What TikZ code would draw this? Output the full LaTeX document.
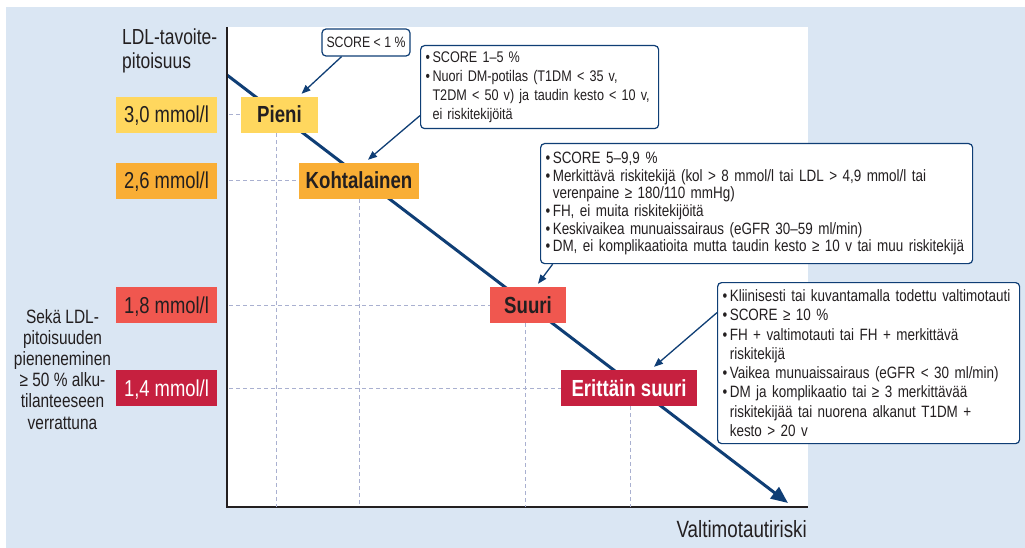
\documentclass[tikz,border=0pt]{standalone}
\usepackage{fontspec}
\setmainfont{Liberation Sans}[FakeStretch=0.8]
\newfontfamily\callfont{Liberation Sans}[FakeStretch=0.82]
\usetikzlibrary{arrows.meta}
\definecolor{bgblue}{HTML}{DAE6F3}
\definecolor{navy}{HTML}{0F3E75}
\definecolor{cyellow}{HTML}{FFD75E}
\definecolor{corange}{HTML}{F9AE35}
\definecolor{ccoral}{HTML}{F0574F}
\definecolor{ccrimson}{HTML}{C6203F}
\definecolor{dashc}{HTML}{A9B0D0}
\definecolor{txt}{HTML}{231F20}
\newcommand{\bu}{•\hspace{2.5pt}}
\newcommand{\bi}{\hphantom{•\hspace{2.5pt}}}
\begin{document}
\begin{tikzpicture}[x=1pt,y=-1pt,
  val/.style={minimum width=101pt, minimum height=36pt, inner sep=0pt, text height=18pt, text depth=2pt, font=\fontsize{23}{26}\selectfont, text=txt},
  cat/.style={minimum height=36pt, inner sep=0pt, text height=18pt, text depth=2pt, font=\bfseries\fontsize{23.3}{26}\selectfont, text=txt},
  diag/.style={draw=navy, line width=3pt, -{Triangle[length=17pt,width=14pt]}},
  axisline/.style={draw=txt, line width=2.5pt},
  dashline/.style={draw=dashc, line width=1pt, dash pattern=on 4pt off 3pt},
  call/.style={draw=navy, fill=white, line width=1.2pt, rounded corners=4pt, text=txt, align=left},
  callarrow/.style={draw=navy, line width=1.3pt, -{Triangle[length=9pt,width=7pt]}}
]
\useasboundingbox (0,0) rectangle (1025,548);
\fill[bgblue] (6,7) rectangle (1025,548);
\fill[white] (227,27) rectangle (808,507);
\coordinate (O) at (227,507);
\coordinate (ytop) at (227,27);
\coordinate (xend) at (808,507);
\coordinate (dstart) at (227,75);
\coordinate (dend) at (788,503);

\draw[diag] (dstart) -- (dend);
\draw[axisline] (ytop) -- (O) -- (xend);

% value labels
\node[val, fill=cyellow] (v30) at (166.5,115) {3,0 mmol/l};
\node[val, fill=corange] (v26) at (166.5,181) {2,6 mmol/l};
\node[val, fill=ccoral] (v18) at (166.5,305) {1,8 mmol/l};
\node[val, fill=ccrimson, text=white] (v14) at (166.5,388) {1,4 mmol/l};

% category boxes
\node[cat, fill=cyellow, minimum width=77pt] (pieni) at (279.5,115) {Pieni};
\node[cat, fill=corange, minimum width=120pt] (kohta) at (359,181) {Kohtalainen};
\node[cat, fill=ccoral, minimum width=76pt] (suuri) at (528,305) {Suuri};
\node[cat, fill=ccrimson, minimum width=136pt, text=white] (eritt) at (629,388) {Erittäin suuri};

% dashed guides
\draw[dashline] ([xshift=2pt]O |- pieni.west) -- (pieni.west);
\draw[dashline] ([xshift=2pt]O |- kohta.west) -- (kohta.west);
\draw[dashline] ([xshift=2pt]O |- suuri.west) -- (suuri.west);
\draw[dashline] ([xshift=2pt]O |- eritt.west) -- (eritt.west);
\draw[dashline] ([xshift=-3.5pt]pieni.south) -- ([xshift=-3.5pt]pieni.south |- O);
\draw[dashline] (kohta.south) -- (kohta.south |- O);
\draw[dashline] ([xshift=-3pt]suuri.south) -- ([xshift=-3pt]suuri.south |- O);
\draw[dashline] ([xshift=1pt]eritt.south) -- ([xshift=1pt]eritt.south |- O);

% axis labels
\node[anchor=north west, align=left, inner sep=0pt, text=txt, font=\fontsize{21.8}{23.5}\selectfont] (ylab) at (122,29) {LDL-tavoite-\\pitoisuus};
\node[anchor=base east, inner sep=0pt, text=txt, font=\fontsize{23.5}{25}\selectfont] (xlab) at (807,537) {Valtimotautiriski};
\node[anchor=north, align=center, inner sep=0pt, text=txt, font=\fontsize{19.3}{21.2}\selectfont] (note) at (62.5,309) {Sekä LDL-\\pitoisuuden\\pieneneminen\\≥ 50 \% alku-\\tilanteeseen\\verrattuna};

% callouts
\node[call, minimum width=88pt, minimum height=27pt, inner sep=0pt, font=\callfont\fontsize{15}{16}\selectfont] (b1) at (366,42.5) {SCORE < 1 \%};
\node[call, anchor=north west, text width=228pt, inner xsep=5pt, inner ysep=0pt, minimum height=83pt, font=\callfont\fontsize{15.4}{19}\selectfont] (b2) at (420,45)
{\mbox{\bu SCORE 1–5 \%}\\
\mbox{\bu Nuori DM-potilas (T1DM < 35 v,}\\
\mbox{\bi T2DM < 50 v) ja taudin kesto < 10 v,}\\
\mbox{\bi ei riskitekijöitä}};
\node[call, anchor=north west, text width=422pt, inner xsep=5pt, inner ysep=0pt, minimum height=120pt, font=\callfont\fontsize{16.4}{17.7}\selectfont] (b3) at (540,143)
{\mbox{\bu SCORE 5–9,9\hspace{6pt}\%}\\
\mbox{\bu Merkittävä riskitekijä (kol > 8 mmol/l tai LDL > 4,9 mmol/l tai}\\
\mbox{\bi verenpaine ≥ 180/110 mmHg)}\\
\mbox{\bu FH, ei muita riskitekijöitä}\\
\mbox{\bu Keskivaikea munuaissairaus (eGFR 30–59 ml/min)}\\
\mbox{\bu DM, ei komplikaatioita mutta taudin kesto ≥ 10 v tai muu riskitekijä}};
\node[call, anchor=north west, text width=292pt, inner xsep=5pt, inner ysep=0pt, minimum height=161pt, font=\callfont\fontsize{16.4}{19.3}\selectfont] (b4) at (717,282)
{\mbox{\bu Kliinisesti tai kuvantamalla todettu valtimotauti}\\
\mbox{\bu SCORE ≥ 10 \%}\\
\mbox{\bu FH + valtimotauti tai FH + merkittävä}\\
\mbox{\bi riskitekijä}\\
\mbox{\bu Vaikea munuaissairaus (eGFR < 30 ml/min)}\\
\mbox{\bu DM ja komplikaatio tai ≥ 3 merkittävää}\\
\mbox{\bi riskitekijää tai nuorena alkanut T1DM +}\\
\mbox{\bi kesto > 20 v}};

% callout arrows
\draw[callarrow] (b1.210) -- ([xshift=22pt,yshift=3pt]pieni.north);
\draw[callarrow] ([yshift=-28.5pt]b2.west) -- ([xshift=9pt,yshift=3pt]kohta.north);
\draw[callarrow] ([xshift=-204pt]b3.south) -- ([xshift=10pt,yshift=3pt]suuri.north);
\draw[callarrow] ([yshift=50.5pt]b4.west) -- ([xshift=25pt,yshift=3pt]eritt.north);
\end{tikzpicture}
\end{document}
